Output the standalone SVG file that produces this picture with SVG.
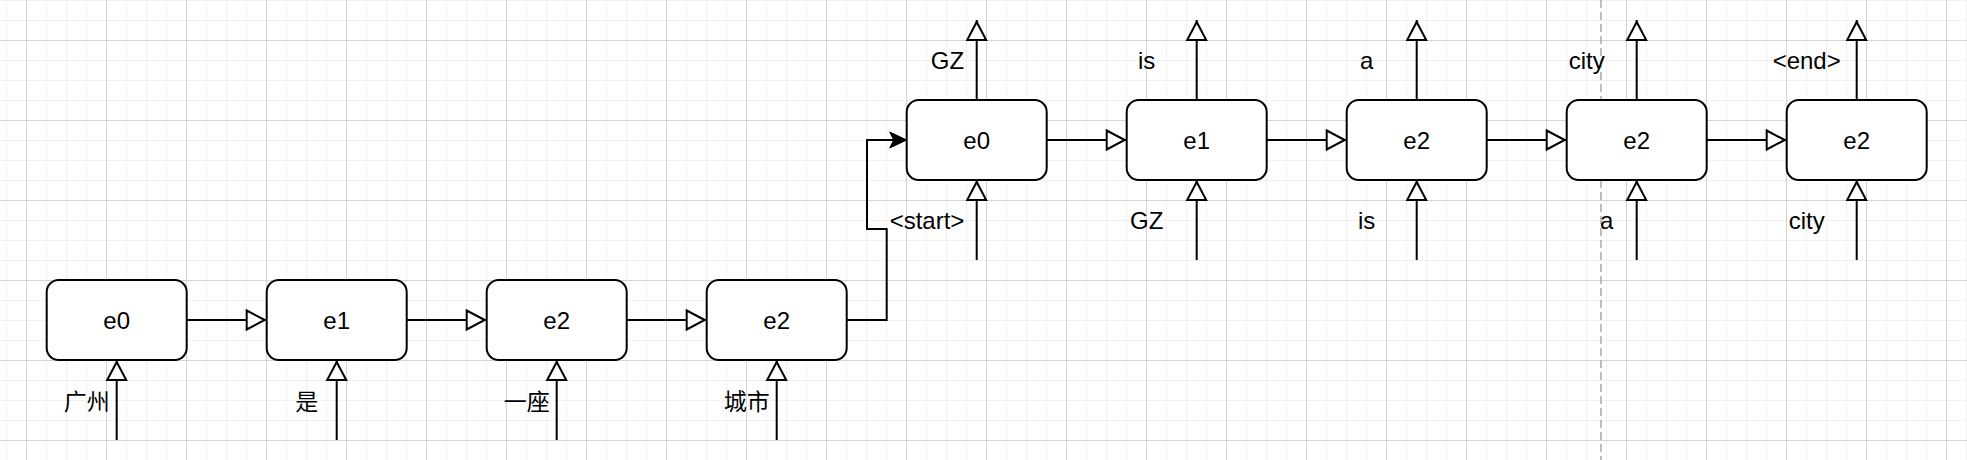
<svg xmlns="http://www.w3.org/2000/svg" width="1967" height="460" viewBox="0 0 1967 460">
  <defs>
    <pattern id="minor" x="6" y="0" width="20" height="20" patternUnits="userSpaceOnUse">
      <path d="M0.5,0 V20 M0,0.5 H20" fill="none" stroke="#f1f1f1" stroke-width="1"/>
    </pattern>
    <pattern id="major" x="26" y="40" width="80" height="80" patternUnits="userSpaceOnUse">
      <path d="M0.5,0 V80 M0,0.5 H80" fill="none" stroke="#d4d4d4" stroke-width="1"/>
    </pattern>
    <marker id="open" viewBox="-24 -12 26 24" refX="0" refY="0" markerWidth="26" markerHeight="24" markerUnits="userSpaceOnUse" orient="auto">
      <path d="M-2,0 L-20,-9.5 L-20,9.5 Z" fill="#fff" stroke="#000" stroke-width="2"/>
    </marker>
    <marker id="filled" viewBox="-20 -10 22 20" refX="0" refY="0" markerWidth="22" markerHeight="20" markerUnits="userSpaceOnUse" orient="auto">
      <path d="M0,0 L-17,-8 L-13,0 L-17,8 Z" fill="#000" stroke="#000" stroke-width="1" stroke-linejoin="miter"/>
    </marker>
  </defs>
  <style>
    .node rect { fill: #fff; stroke: #000; stroke-width: 2; }
    .node text, .lbl { font-family: "Liberation Sans", Arial, "Noto Sans CJK SC", sans-serif; font-size: 24px; fill: #000; text-anchor: middle; }
    .cjk { font-family: "Noto Sans CJK SC", "Liberation Sans", sans-serif; font-size: 23px; fill: #000; text-anchor: middle; }
    .edge { fill: none; stroke: #000; stroke-width: 2; }
    .op { marker-end: url(#open); }
  </style>

  <rect x="0" y="0" width="1967" height="460" fill="#fff"/>
  <rect x="0" y="0" width="1967" height="460" fill="url(#minor)"/>
  <rect x="0" y="0" width="1967" height="460" fill="url(#major)"/>
  <line x1="1601" y1="0" x2="1601" y2="460" stroke="#bdbdbd" stroke-width="2" stroke-dasharray="8 4"/>

  <g id="connectors">
    <!-- bottom row horizontal -->
    <path class="edge op" d="M186.7,320 H266.7"/>
    <path class="edge op" d="M406.7,320 H486.7"/>
    <path class="edge op" d="M626.7,320 H706.7"/>
    <!-- bottom to top -->
    <path class="edge" marker-end="url(#filled)" d="M846.7,320 H886.7 V229 H867 V140 H906.7"/>
    <!-- top row horizontal -->
    <path class="edge op" d="M1046.7,140 H1126.7"/>
    <path class="edge op" d="M1266.7,140 H1346.7"/>
    <path class="edge op" d="M1486.7,140 H1566.7"/>
    <path class="edge op" d="M1706.7,140 H1786.7"/>
    <!-- bottom row inputs -->
    <path class="edge op" d="M116.7,440 V360"/>
    <path class="edge op" d="M336.7,440 V360"/>
    <path class="edge op" d="M556.7,440 V360"/>
    <path class="edge op" d="M776.7,440 V360"/>
    <!-- top row inputs -->
    <path class="edge op" d="M976.7,260 V180"/>
    <path class="edge op" d="M1196.7,260 V180"/>
    <path class="edge op" d="M1416.7,260 V180"/>
    <path class="edge op" d="M1636.7,260 V180"/>
    <path class="edge op" d="M1856.7,260 V180"/>
    <!-- top row outputs -->
    <path class="edge op" d="M976.7,100 V20"/>
    <path class="edge op" d="M1196.7,100 V20"/>
    <path class="edge op" d="M1416.7,100 V20"/>
    <path class="edge op" d="M1636.7,100 V20"/>
    <path class="edge op" d="M1856.7,100 V20"/>
  </g>

  <g id="labels">
    <text class="cjk" x="86.7" y="410">广州</text>
    <text class="cjk" x="306.7" y="410">是</text>
    <text class="cjk" x="526.7" y="410">一座</text>
    <text class="cjk" x="746.7" y="410">城市</text>
    <text class="lbl" x="947.5" y="68.5">GZ</text>
    <text class="lbl" x="1146.7" y="68.5">is</text>
    <text class="lbl" x="1366.7" y="68.5">a</text>
    <text class="lbl" x="1586.7" y="68.5">city</text>
    <text class="lbl" x="1806.7" y="68.5">&lt;end&gt;</text>
    <text class="lbl" x="927" y="228.5">&lt;start&gt;</text>
    <text class="lbl" x="1146.7" y="228.5">GZ</text>
    <text class="lbl" x="1366.7" y="228.5">is</text>
    <text class="lbl" x="1606.7" y="228.5">a</text>
    <text class="lbl" x="1806.7" y="228.5">city</text>
  </g>

  <g id="enc0" class="node"><rect x="46.7" y="280" width="140" height="80" rx="12"/><text x="116.7" y="328.5">e0</text></g>
  <g id="enc1" class="node"><rect x="266.7" y="280" width="140" height="80" rx="12"/><text x="336.7" y="328.5">e1</text></g>
  <g id="enc2" class="node"><rect x="486.7" y="280" width="140" height="80" rx="12"/><text x="556.7" y="328.5">e2</text></g>
  <g id="enc3" class="node"><rect x="706.7" y="280" width="140" height="80" rx="12"/><text x="776.7" y="328.5">e2</text></g>

  <g id="dec0" class="node"><rect x="906.7" y="100" width="140" height="80" rx="12"/><text x="976.7" y="148.5">e0</text></g>
  <g id="dec1" class="node"><rect x="1126.7" y="100" width="140" height="80" rx="12"/><text x="1196.7" y="148.5">e1</text></g>
  <g id="dec2" class="node"><rect x="1346.7" y="100" width="140" height="80" rx="12"/><text x="1416.7" y="148.5">e2</text></g>
  <g id="dec3" class="node"><rect x="1566.7" y="100" width="140" height="80" rx="12"/><text x="1636.7" y="148.5">e2</text></g>
  <g id="dec4" class="node"><rect x="1786.7" y="100" width="140" height="80" rx="12"/><text x="1856.7" y="148.5">e2</text></g>
</svg>
